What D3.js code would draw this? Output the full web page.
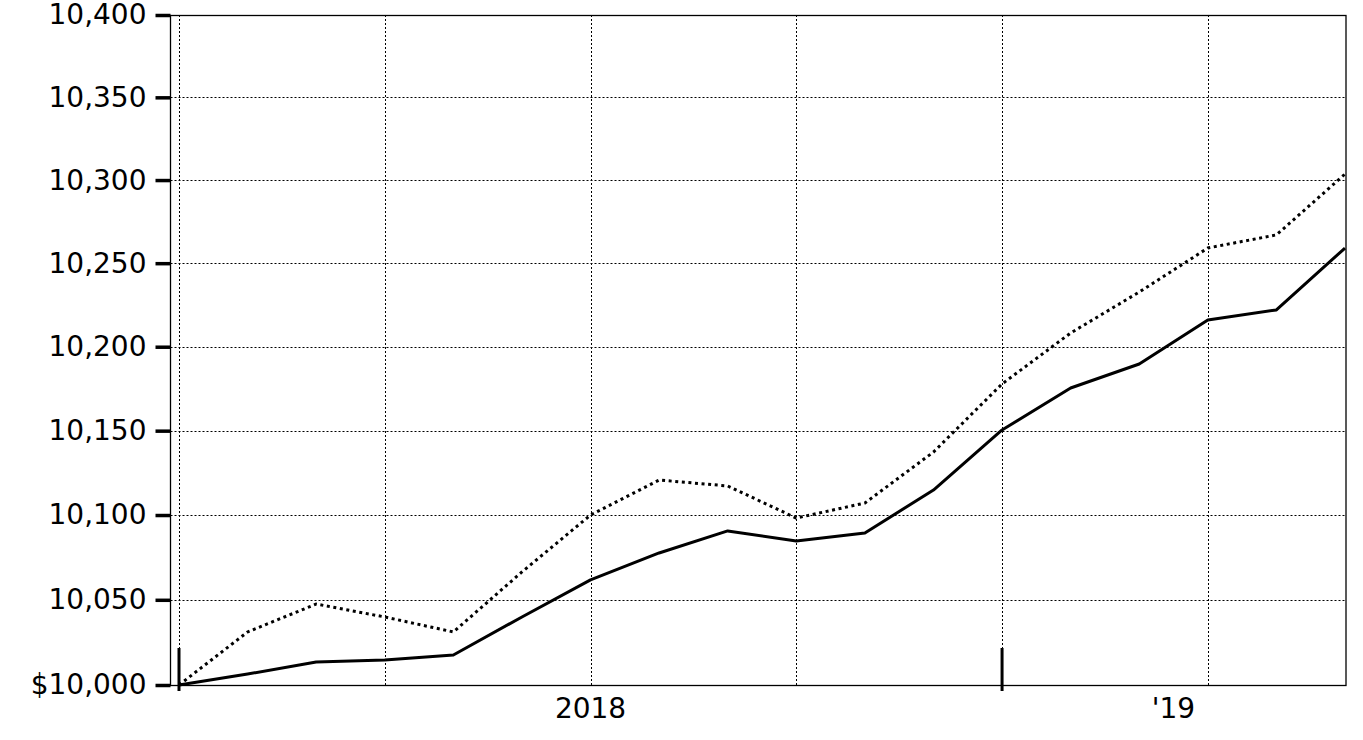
<!DOCTYPE html>
<html>
<head>
<meta charset="utf-8">
<script src="https://cdn.jsdelivr.net/npm/d3@7"></script>
<style>
  html, body { margin: 0; padding: 0; background: #fff; }
  svg { display: block; }
  text { font-family: "DejaVu Sans", Verdana, sans-serif; fill: #000; }
</style>
</head>
<body>
<svg id="chart" width="1363" height="740"></svg>
<script>
// ---- data ----
const months = [0, 1, 2, 3, 4, 5, 6, 7, 8, 9, 10, 11, 12, 13, 14, 15, 16, 17];
const fundValues = [10000, 10006.4, 10013.5, 10014.6, 10017.6, 10039.9, 10061.7, 10077.6, 10090.6,
  10084.7, 10089.4, 10114.8, 10150.4, 10175.4, 10189.7, 10216.0, 10222.0, 10259.1];
const indexValues = [10000, 10031.1, 10047.5, 10039.9, 10031.1, 10066.4, 10100.0, 10120.7, 10117.2,
  10098.2, 10107.1, 10137.3, 10177.8, 10208.2, 10232.7, 10259.1, 10267.0, 10303.6];
const yTicks = [10000, 10050, 10100, 10150, 10200, 10250, 10300, 10350, 10400];
const xGridMonths = [0, 3, 6, 9, 12, 15];
const periodTickMonths = [0, 12];
const xLabelPositions = [6, 14.5];
const xLabels = ["2018", "'19"];

// ---- layout ----
const frame = { left: 170.5, right: 1346, top: 15, bottom: 685 };
const svg = d3.select("#chart");

const x = d3.scaleLinear().domain([0, 17]).range([179, 1345]);
const y = d3.scaleLog().domain([10000, 10400]).range([frame.bottom, frame.top]);

// horizontal grid
svg.append("g").selectAll("line").data(yTicks.slice(1, -1)).join("line")
  .attr("x1", frame.left).attr("x2", frame.right)
  .attr("y1", d => Math.round(y(d)) + 0.5).attr("y2", d => Math.round(y(d)) + 0.5)
  .attr("stroke", "#000").attr("stroke-width", 1).attr("stroke-dasharray", "2,2");

// vertical grid
svg.append("g").selectAll("line").data(xGridMonths).join("line")
  .attr("x1", d => Math.round(x(d)) + 0.5).attr("x2", d => Math.round(x(d)) + 0.5)
  .attr("y1", frame.top).attr("y2", frame.bottom)
  .attr("stroke", "#000").attr("stroke-width", 1).attr("stroke-dasharray", "2,2");

// frame
svg.append("rect")
  .attr("x", frame.left).attr("y", frame.top + 0.5)
  .attr("width", frame.right - frame.left).attr("height", frame.bottom - frame.top)
  .attr("fill", "none").attr("stroke", "#000").attr("stroke-width", 1.3);

// y axis
const yAxis = d3.axisLeft(y)
  .tickValues(yTicks)
  .tickSize(15)
  .tickPadding(9)
  .tickFormat(d => (d === 10000 ? "$" : "") + d3.format(",")(d));
const gy = svg.append("g").attr("transform", `translate(${frame.left},0)`).call(yAxis);
gy.select(".domain").remove();
gy.selectAll(".tick line").attr("stroke", "#000").attr("stroke-width", 3.5);
gy.selectAll(".tick text").style("font-size", "28px").attr("fill", "#000")
  .style("font-family", '"DejaVu Sans", Verdana, sans-serif');

// period ticks (tall)
svg.append("g").selectAll("line").data(periodTickMonths).join("line")
  .attr("x1", d => x(d)).attr("x2", d => x(d))
  .attr("y1", 648).attr("y2", 691)
  .attr("stroke", "#000").attr("stroke-width", 3);

// x labels
svg.append("g").selectAll("text").data(xLabels).join("text")
  .attr("x", (d, i) => x(xLabelPositions[i]))
  .attr("y", 718)
  .attr("text-anchor", "middle")
  .style("font-size", "28px")
  .text(d => d);

// lines
const line = d3.line().x((d, i) => x(months[i])).y(d => y(d));

svg.append("path").datum(indexValues)
  .attr("d", line)
  .attr("fill", "none").attr("stroke", "#000").attr("stroke-width", 3)
  .attr("stroke-dasharray", "3,3.6");

svg.append("path").datum(fundValues)
  .attr("d", line)
  .attr("fill", "none").attr("stroke", "#000").attr("stroke-width", 3)
  .attr("stroke-linejoin", "round");
</script>
</body>
</html>
